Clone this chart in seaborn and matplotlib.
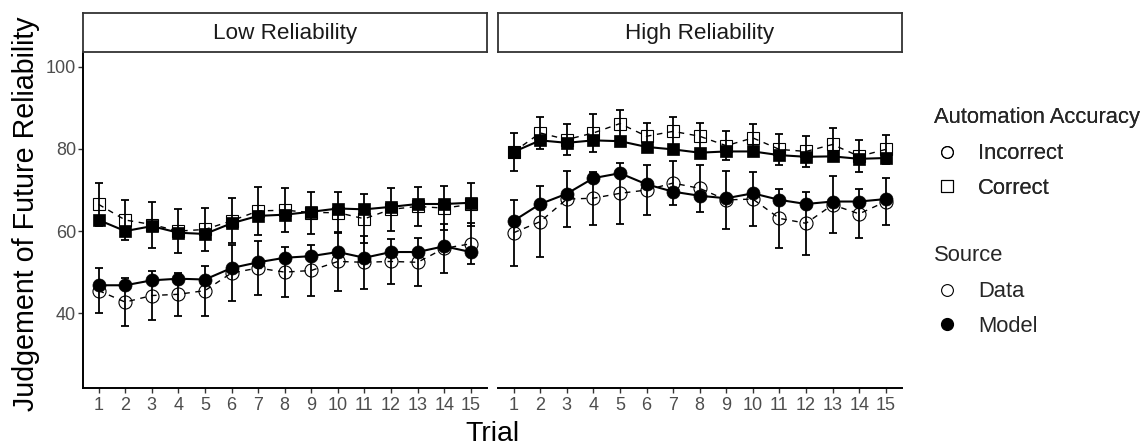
import numpy as np
import pandas as pd
import matplotlib
matplotlib.use("Agg")
import matplotlib.pyplot as plt
from matplotlib.lines import Line2D
import seaborn as sns

# ---------------- data ----------------
trials = list(range(1, 16))
panels = ["Low Reliability", "High Reliability"]

low_correct_data = [66.5, 62.7, 61.6, 60.0, 60.4, 62.5, 64.9, 65.1, 64.5, 64.5, 63.0, 65.3, 66.0, 65.6, 66.5]
low_correct_data_err = [5.3, 4.8, 5.6, 5.4, 5.3, 5.5, 5.9, 5.4, 5.1, 5.0, 6.0, 5.3, 4.8, 5.4, 5.2]
low_correct_model = [62.7, 60.0, 61.2, 59.6, 59.3, 61.9, 63.7, 64.0, 64.7, 65.5, 65.3, 65.9, 66.6, 66.6, 66.9]
low_incorrect_data = [45.5, 42.7, 44.3, 44.6, 45.5, 49.8, 51.0, 50.0, 50.4, 52.6, 52.4, 52.6, 52.4, 55.8, 56.9]
low_incorrect_data_err = [5.4, 5.9, 6.0, 5.3, 6.1, 6.9, 6.5, 6.1, 6.2, 7.1, 6.5, 5.5, 5.9, 5.9, 5.0]
low_incorrect_model = [46.8, 46.8, 48.0, 48.4, 48.2, 51.0, 52.4, 53.5, 53.9, 54.9, 53.5, 54.9, 54.9, 56.3, 54.9]

high_correct_data = [79.3, 83.9, 82.3, 83.9, 86.2, 83.1, 84.3, 83.1, 80.8, 82.7, 79.9, 79.4, 81.1, 78.2, 79.9]
high_correct_data_err = [4.7, 3.9, 3.8, 4.7, 3.3, 3.3, 3.4, 3.3, 3.5, 3.3, 3.7, 3.7, 4.0, 3.9, 3.6]
high_correct_model = [79.3, 82.1, 81.5, 82.1, 81.9, 80.5, 79.9, 79.1, 79.4, 79.4, 78.5, 78.1, 78.2, 77.6, 77.8]
high_incorrect_data = [59.6, 62.3, 67.8, 68.0, 69.2, 70.0, 71.7, 70.4, 67.6, 67.8, 63.1, 61.9, 66.4, 64.2, 67.2]
high_incorrect_data_err = [8.0, 8.6, 6.8, 6.5, 7.4, 6.2, 5.3, 5.8, 7.1, 6.6, 7.1, 7.7, 6.9, 6.0, 5.7]
high_incorrect_model = [62.5, 66.6, 69.1, 72.9, 74.1, 71.4, 69.6, 68.6, 68.0, 69.2, 67.6, 66.6, 67.2, 67.2, 67.8]

y_ticks = [40, 60, 80, 100]

series = {
    ("Low Reliability", "Correct", "Data"): (low_correct_data, low_correct_data_err),
    ("Low Reliability", "Correct", "Model"): (low_correct_model, None),
    ("Low Reliability", "Incorrect", "Data"): (low_incorrect_data, low_incorrect_data_err),
    ("Low Reliability", "Incorrect", "Model"): (low_incorrect_model, None),
    ("High Reliability", "Correct", "Data"): (high_correct_data, high_correct_data_err),
    ("High Reliability", "Correct", "Model"): (high_correct_model, None),
    ("High Reliability", "Incorrect", "Data"): (high_incorrect_data, high_incorrect_data_err),
    ("High Reliability", "Incorrect", "Model"): (high_incorrect_model, None),
}

rows = []
for (panel, acc, src), (vals, errs) in series.items():
    for i, t in enumerate(trials):
        rows.append(dict(panel=panel, accuracy=acc, source=src, trial=t,
                         value=vals[i], err=(errs[i] if errs is not None else np.nan)))
df = pd.DataFrame(rows)

# ---------------- style ----------------
sns.set_theme(style="white")
plt.rcParams["font.family"] = ["Liberation Sans", "DejaVu Sans"]

W, H = 1146, 446
fig = plt.figure(figsize=(W / 100, H / 100), dpi=100)

ax_bottom = (H - 388.3) / H
ax_height = 336.6 / H
ax_lefts = [82.7 / W, 497.7 / W]
ax_width = 404.0 / W

marker_for = {"Incorrect": "o", "Correct": "s"}
axes = []
for pi, panel in enumerate(panels):
    ax = fig.add_axes([ax_lefts[pi], ax_bottom, ax_width, ax_height])
    axes.append(ax)
    sub = df[df.panel == panel]
    # data (open markers, dashed) first
    for acc in ["Correct", "Incorrect"]:
        d = sub[(sub.accuracy == acc) & (sub.source == "Data")]
        ax.errorbar(d.trial, d.value, yerr=d.err, fmt="none", ecolor="black",
                    elinewidth=1.3, capsize=2.6, capthick=1.3, zorder=2)
        sns.lineplot(data=d, x="trial", y="value", ax=ax, color="black",
                     linestyle=(0, (4, 4)), linewidth=1.0,
                     marker=marker_for[acc],
                     markersize=9.4 if acc == "Incorrect" else 9.0,
                     markerfacecolor="none", markeredgecolor="black",
                     markeredgewidth=0.8, zorder=3)
    for acc in ["Correct", "Incorrect"]:
        d = sub[(sub.accuracy == acc) & (sub.source == "Model")]
        sns.lineplot(data=d, x="trial", y="value", ax=ax, color="black",
                     linestyle="-", linewidth=1.5,
                     marker=marker_for[acc],
                     markersize=9.4 if acc == "Incorrect" else 9.0,
                     markerfacecolor="black", markeredgecolor="black",
                     markeredgewidth=0.5, zorder=4)

    ax.set_xlim(0.4, 15.6)
    ax.set_ylim(21.7, 103.7)
    ax.set_xticks(trials)
    ax.set_xticklabels([str(t) for t in trials])
    ax.set_yticks(y_ticks)
    ax.set_xlabel("")
    ax.set_ylabel("")
    for s in ["top", "right"]:
        ax.spines[s].set_visible(False)
    ax.spines["bottom"].set_color("black")
    ax.spines["bottom"].set_linewidth(1.4)
    ax.spines["left"].set_color("black")
    ax.spines["left"].set_linewidth(1.4)
    ax.tick_params(axis="both", which="major", length=3.6, width=1.0,
                   color="#333333", labelcolor="#4D4D4D", labelsize=13)
    ax.tick_params(axis="x", bottom=True, pad=2.5)
    ax.tick_params(axis="y", left=True, pad=1.2)
    if pi == 1:
        ax.spines["left"].set_visible(False)
        ax.tick_params(axis="y", left=False, labelleft=False)
    ax.grid(False)

    # facet strip
    sax = fig.add_axes([ax_lefts[pi], (H - 51.7) / H, ax_width, 38.4 / H])
    sax.set_xticks([])
    sax.set_yticks([])
    sax.set_facecolor("white")
    for s in sax.spines.values():
        s.set_visible(True)
        s.set_color("#333333")
        s.set_linewidth(1.3)
    sax.text(0.5, 0.47, panel, ha="center", va="center", fontsize=16.2,
             color="#1A1A1A", transform=sax.transAxes)

fig.text(26 / W, 1 - 214 / H, "Judgement of Future Reliability", rotation=90,
         ha="center", va="center", fontsize=20.6, color="black")
fig.text(492.5 / W, 1 - 434 / H, "Trial", ha="center", va="center",
         fontsize=20.5, color="black")

# ---------------- legends ----------------
h_acc = [Line2D([], [], linestyle="none", marker="o", markersize=8.5,
                markerfacecolor="none", markeredgecolor="black", markeredgewidth=0.8),
         Line2D([], [], linestyle="none", marker="s", markersize=8.0,
                markerfacecolor="none", markeredgecolor="black", markeredgewidth=0.8)]
h_src = [Line2D([], [], linestyle="none", marker="o", markersize=8.5,
                markerfacecolor="none", markeredgecolor="black", markeredgewidth=0.8),
         Line2D([], [], linestyle="none", marker="o", markersize=8.5,
                markerfacecolor="black", markeredgecolor="black")]
leg_kw = dict(frameon=False, fontsize=15.8, title_fontsize=15.8, alignment="left",
              handlelength=1.2, handletextpad=0.8, labelspacing=0.62,
              borderaxespad=0, borderpad=0, loc="upper left")
leg1 = fig.legend(h_acc, ["Incorrect", "Correct"], title="Automation Accuracy",
                  bbox_to_anchor=(934 / W, 1 - 107 / H), **leg_kw)
leg2 = fig.legend(h_src, ["Data", "Model"], title="Source",
                  bbox_to_anchor=(934 / W, 1 - 245 / H), **leg_kw)
for leg in (leg1, leg2):
    leg._legend_box.sep = 11
fig.add_artist(leg1)

fig.savefig("out.png", dpi=100, facecolor="white")
